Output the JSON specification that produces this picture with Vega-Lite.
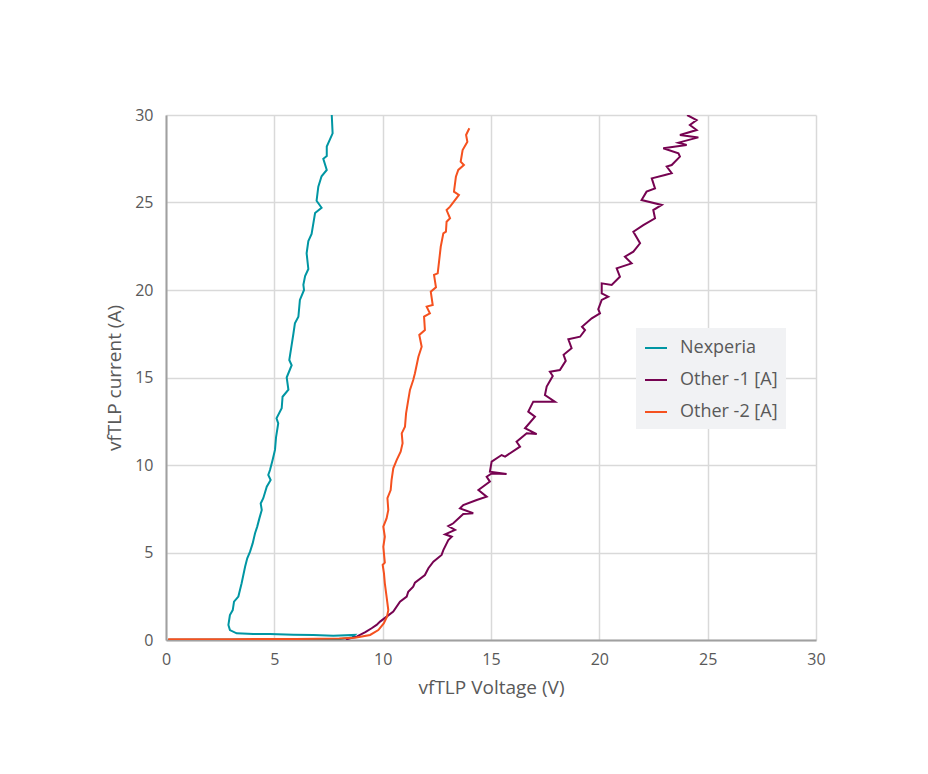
{
  "$schema": "https://vega.github.io/schema/vega-lite/v6.json",
  "width": 650,
  "height": 525,
  "autosize": {"type": "none"},
  "padding": {"left": 166, "top": 115, "right": 112, "bottom": 134},
  "background": "#ffffff",
  "config": {
    "font": "Open Sans",
    "view": {"stroke": null},
    "axis": {
      "labelColor": "#595959",
      "titleColor": "#595959",
      "labelFontSize": 16,
      "titleFontSize": 19,
      "titleFontWeight": "normal",
      "gridColor": "#d9d9d9",
      "gridWidth": 1.5,
      "domainColor": "#a0a0a0",
      "domainWidth": 2,
      "ticks": false,
      "labelFlush": false
    }
  },
  "data": {
    "values": [
      {"series": "Nexperia", "i": 0, "voltage": 0.1, "current": 0.02},
      {"series": "Nexperia", "i": 1, "voltage": 4.0, "current": 0.03},
      {"series": "Nexperia", "i": 2, "voltage": 8.0, "current": 0.05},
      {"series": "Nexperia", "i": 3, "voltage": 8.6, "current": 0.15},
      {"series": "Nexperia", "i": 4, "voltage": 8.72, "current": 0.29},
      {"series": "Nexperia", "i": 5, "voltage": 7.72, "current": 0.25},
      {"series": "Nexperia", "i": 6, "voltage": 6.8, "current": 0.29},
      {"series": "Nexperia", "i": 7, "voltage": 5.88, "current": 0.3},
      {"series": "Nexperia", "i": 8, "voltage": 4.8, "current": 0.34},
      {"series": "Nexperia", "i": 9, "voltage": 4.03, "current": 0.34},
      {"series": "Nexperia", "i": 10, "voltage": 3.26, "current": 0.38},
      {"series": "Nexperia", "i": 11, "voltage": 2.95, "current": 0.57},
      {"series": "Nexperia", "i": 12, "voltage": 2.88, "current": 0.86},
      {"series": "Nexperia", "i": 13, "voltage": 2.95, "current": 1.43},
      {"series": "Nexperia", "i": 14, "voltage": 3.08, "current": 1.71},
      {"series": "Nexperia", "i": 15, "voltage": 3.14, "current": 2.19},
      {"series": "Nexperia", "i": 16, "voltage": 3.34, "current": 2.48},
      {"series": "Nexperia", "i": 17, "voltage": 3.49, "current": 3.24},
      {"series": "Nexperia", "i": 18, "voltage": 3.65, "current": 4.19},
      {"series": "Nexperia", "i": 19, "voltage": 3.75, "current": 4.67},
      {"series": "Nexperia", "i": 20, "voltage": 3.88, "current": 5.05},
      {"series": "Nexperia", "i": 21, "voltage": 4.0, "current": 5.52},
      {"series": "Nexperia", "i": 22, "voltage": 4.11, "current": 6.1},
      {"series": "Nexperia", "i": 23, "voltage": 4.21, "current": 6.48},
      {"series": "Nexperia", "i": 24, "voltage": 4.31, "current": 6.95},
      {"series": "Nexperia", "i": 25, "voltage": 4.42, "current": 7.43},
      {"series": "Nexperia", "i": 26, "voltage": 4.37, "current": 7.8},
      {"series": "Nexperia", "i": 27, "voltage": 4.49, "current": 8.1},
      {"series": "Nexperia", "i": 28, "voltage": 4.65, "current": 8.76},
      {"series": "Nexperia", "i": 29, "voltage": 4.83, "current": 9.14},
      {"series": "Nexperia", "i": 30, "voltage": 4.72, "current": 9.43},
      {"series": "Nexperia", "i": 31, "voltage": 4.8, "current": 9.71},
      {"series": "Nexperia", "i": 32, "voltage": 4.92, "current": 10.29},
      {"series": "Nexperia", "i": 33, "voltage": 5.03, "current": 10.86},
      {"series": "Nexperia", "i": 34, "voltage": 5.08, "current": 11.6},
      {"series": "Nexperia", "i": 35, "voltage": 5.18, "current": 12.38},
      {"series": "Nexperia", "i": 36, "voltage": 5.1, "current": 12.67},
      {"series": "Nexperia", "i": 37, "voltage": 5.34, "current": 13.24},
      {"series": "Nexperia", "i": 38, "voltage": 5.38, "current": 13.9},
      {"series": "Nexperia", "i": 39, "voltage": 5.65, "current": 14.3},
      {"series": "Nexperia", "i": 40, "voltage": 5.57, "current": 15.0},
      {"series": "Nexperia", "i": 41, "voltage": 5.8, "current": 15.7},
      {"series": "Nexperia", "i": 42, "voltage": 5.69, "current": 16.0},
      {"series": "Nexperia", "i": 43, "voltage": 5.8, "current": 16.86},
      {"series": "Nexperia", "i": 44, "voltage": 5.88, "current": 17.5},
      {"series": "Nexperia", "i": 45, "voltage": 5.95, "current": 18.1},
      {"series": "Nexperia", "i": 46, "voltage": 6.11, "current": 18.47},
      {"series": "Nexperia", "i": 47, "voltage": 6.18, "current": 19.43},
      {"series": "Nexperia", "i": 48, "voltage": 6.37, "current": 20.0},
      {"series": "Nexperia", "i": 49, "voltage": 6.34, "current": 20.3},
      {"series": "Nexperia", "i": 50, "voltage": 6.42, "current": 20.8},
      {"series": "Nexperia", "i": 51, "voltage": 6.57, "current": 21.2},
      {"series": "Nexperia", "i": 52, "voltage": 6.49, "current": 22.1},
      {"series": "Nexperia", "i": 53, "voltage": 6.57, "current": 22.8},
      {"series": "Nexperia", "i": 54, "voltage": 6.72, "current": 23.2},
      {"series": "Nexperia", "i": 55, "voltage": 6.88, "current": 24.4},
      {"series": "Nexperia", "i": 56, "voltage": 7.18, "current": 24.7},
      {"series": "Nexperia", "i": 57, "voltage": 6.95, "current": 25.1},
      {"series": "Nexperia", "i": 58, "voltage": 7.03, "current": 25.9},
      {"series": "Nexperia", "i": 59, "voltage": 7.18, "current": 26.5},
      {"series": "Nexperia", "i": 60, "voltage": 7.42, "current": 26.86},
      {"series": "Nexperia", "i": 61, "voltage": 7.26, "current": 27.5},
      {"series": "Nexperia", "i": 62, "voltage": 7.42, "current": 27.66},
      {"series": "Nexperia", "i": 63, "voltage": 7.42, "current": 28.2},
      {"series": "Nexperia", "i": 64, "voltage": 7.69, "current": 28.95},
      {"series": "Nexperia", "i": 65, "voltage": 7.65, "current": 30.0},

      {"series": "Other -1 [A]", "i": 0, "voltage": 8.3, "current": 0.03},
      {"series": "Other -1 [A]", "i": 1, "voltage": 8.8, "current": 0.19},
      {"series": "Other -1 [A]", "i": 2, "voltage": 9.2, "current": 0.45},
      {"series": "Other -1 [A]", "i": 3, "voltage": 9.49, "current": 0.67},
      {"series": "Other -1 [A]", "i": 4, "voltage": 9.72, "current": 0.86},
      {"series": "Other -1 [A]", "i": 5, "voltage": 9.88, "current": 1.05},
      {"series": "Other -1 [A]", "i": 6, "voltage": 10.2, "current": 1.35},
      {"series": "Other -1 [A]", "i": 7, "voltage": 10.49, "current": 1.62},
      {"series": "Other -1 [A]", "i": 8, "voltage": 10.8, "current": 2.19},
      {"series": "Other -1 [A]", "i": 9, "voltage": 11.11, "current": 2.48},
      {"series": "Other -1 [A]", "i": 10, "voltage": 11.18, "current": 2.76},
      {"series": "Other -1 [A]", "i": 11, "voltage": 11.41, "current": 3.05},
      {"series": "Other -1 [A]", "i": 12, "voltage": 11.49, "current": 3.28},
      {"series": "Other -1 [A]", "i": 13, "voltage": 11.95, "current": 3.71},
      {"series": "Other -1 [A]", "i": 14, "voltage": 12.11, "current": 4.1},
      {"series": "Other -1 [A]", "i": 15, "voltage": 12.34, "current": 4.48},
      {"series": "Other -1 [A]", "i": 16, "voltage": 12.72, "current": 4.86},
      {"series": "Other -1 [A]", "i": 17, "voltage": 12.8, "current": 5.14},
      {"series": "Other -1 [A]", "i": 18, "voltage": 13.03, "current": 5.71},
      {"series": "Other -1 [A]", "i": 19, "voltage": 13.19, "current": 5.9},
      {"series": "Other -1 [A]", "i": 20, "voltage": 12.88, "current": 6.04},
      {"series": "Other -1 [A]", "i": 21, "voltage": 13.34, "current": 6.29},
      {"series": "Other -1 [A]", "i": 22, "voltage": 13.03, "current": 6.51},
      {"series": "Other -1 [A]", "i": 23, "voltage": 13.26, "current": 6.67},
      {"series": "Other -1 [A]", "i": 24, "voltage": 13.72, "current": 7.2},
      {"series": "Other -1 [A]", "i": 25, "voltage": 14.18, "current": 7.24},
      {"series": "Other -1 [A]", "i": 26, "voltage": 13.57, "current": 7.52},
      {"series": "Other -1 [A]", "i": 27, "voltage": 13.72, "current": 7.71},
      {"series": "Other -1 [A]", "i": 28, "voltage": 14.34, "current": 8.0},
      {"series": "Other -1 [A]", "i": 29, "voltage": 14.8, "current": 8.19},
      {"series": "Other -1 [A]", "i": 30, "voltage": 14.42, "current": 8.57},
      {"series": "Other -1 [A]", "i": 31, "voltage": 14.95, "current": 9.05},
      {"series": "Other -1 [A]", "i": 32, "voltage": 14.8, "current": 9.33},
      {"series": "Other -1 [A]", "i": 33, "voltage": 15.03, "current": 9.52},
      {"series": "Other -1 [A]", "i": 34, "voltage": 15.72, "current": 9.49},
      {"series": "Other -1 [A]", "i": 35, "voltage": 14.95, "current": 9.62},
      {"series": "Other -1 [A]", "i": 36, "voltage": 15.03, "current": 10.19},
      {"series": "Other -1 [A]", "i": 37, "voltage": 15.49, "current": 10.57},
      {"series": "Other -1 [A]", "i": 38, "voltage": 15.65, "current": 10.48},
      {"series": "Other -1 [A]", "i": 39, "voltage": 16.34, "current": 11.05},
      {"series": "Other -1 [A]", "i": 40, "voltage": 16.18, "current": 11.33},
      {"series": "Other -1 [A]", "i": 41, "voltage": 16.65, "current": 11.81},
      {"series": "Other -1 [A]", "i": 42, "voltage": 17.11, "current": 11.77},
      {"series": "Other -1 [A]", "i": 43, "voltage": 16.57, "current": 12.1},
      {"series": "Other -1 [A]", "i": 44, "voltage": 17.03, "current": 12.76},
      {"series": "Other -1 [A]", "i": 45, "voltage": 16.72, "current": 13.05},
      {"series": "Other -1 [A]", "i": 46, "voltage": 16.95, "current": 13.62},
      {"series": "Other -1 [A]", "i": 47, "voltage": 17.95, "current": 13.62},
      {"series": "Other -1 [A]", "i": 48, "voltage": 17.49, "current": 14.0},
      {"series": "Other -1 [A]", "i": 49, "voltage": 17.57, "current": 14.48},
      {"series": "Other -1 [A]", "i": 50, "voltage": 17.85, "current": 15.09},
      {"series": "Other -1 [A]", "i": 51, "voltage": 17.72, "current": 15.33},
      {"series": "Other -1 [A]", "i": 52, "voltage": 18.18, "current": 15.43},
      {"series": "Other -1 [A]", "i": 53, "voltage": 18.45, "current": 15.95},
      {"series": "Other -1 [A]", "i": 54, "voltage": 18.35, "current": 16.3},
      {"series": "Other -1 [A]", "i": 55, "voltage": 18.72, "current": 16.67},
      {"series": "Other -1 [A]", "i": 56, "voltage": 18.57, "current": 17.18},
      {"series": "Other -1 [A]", "i": 57, "voltage": 19.11, "current": 17.33},
      {"series": "Other -1 [A]", "i": 58, "voltage": 19.34, "current": 17.71},
      {"series": "Other -1 [A]", "i": 59, "voltage": 19.2, "current": 17.9},
      {"series": "Other -1 [A]", "i": 60, "voltage": 19.65, "current": 18.38},
      {"series": "Other -1 [A]", "i": 61, "voltage": 20.03, "current": 18.67},
      {"series": "Other -1 [A]", "i": 62, "voltage": 19.95, "current": 18.9},
      {"series": "Other -1 [A]", "i": 63, "voltage": 20.11, "current": 19.43},
      {"series": "Other -1 [A]", "i": 64, "voltage": 20.41, "current": 19.62},
      {"series": "Other -1 [A]", "i": 65, "voltage": 20.11, "current": 19.81},
      {"series": "Other -1 [A]", "i": 66, "voltage": 20.11, "current": 20.38},
      {"series": "Other -1 [A]", "i": 67, "voltage": 20.57, "current": 20.29},
      {"series": "Other -1 [A]", "i": 68, "voltage": 20.95, "current": 20.76},
      {"series": "Other -1 [A]", "i": 69, "voltage": 20.8, "current": 21.24},
      {"series": "Other -1 [A]", "i": 70, "voltage": 21.49, "current": 21.52},
      {"series": "Other -1 [A]", "i": 71, "voltage": 21.18, "current": 21.9},
      {"series": "Other -1 [A]", "i": 72, "voltage": 21.57, "current": 22.19},
      {"series": "Other -1 [A]", "i": 73, "voltage": 21.88, "current": 22.67},
      {"series": "Other -1 [A]", "i": 74, "voltage": 21.57, "current": 23.33},
      {"series": "Other -1 [A]", "i": 75, "voltage": 22.03, "current": 23.71},
      {"series": "Other -1 [A]", "i": 76, "voltage": 22.57, "current": 24.1},
      {"series": "Other -1 [A]", "i": 77, "voltage": 22.49, "current": 24.57},
      {"series": "Other -1 [A]", "i": 78, "voltage": 22.88, "current": 24.86},
      {"series": "Other -1 [A]", "i": 79, "voltage": 21.95, "current": 25.14},
      {"series": "Other -1 [A]", "i": 80, "voltage": 22.18, "current": 25.62},
      {"series": "Other -1 [A]", "i": 81, "voltage": 22.57, "current": 25.81},
      {"series": "Other -1 [A]", "i": 82, "voltage": 22.42, "current": 26.38},
      {"series": "Other -1 [A]", "i": 83, "voltage": 23.03, "current": 26.57},
      {"series": "Other -1 [A]", "i": 84, "voltage": 23.34, "current": 26.67},
      {"series": "Other -1 [A]", "i": 85, "voltage": 23.11, "current": 27.05},
      {"series": "Other -1 [A]", "i": 86, "voltage": 23.34, "current": 27.14},
      {"series": "Other -1 [A]", "i": 87, "voltage": 23.72, "current": 27.62},
      {"series": "Other -1 [A]", "i": 88, "voltage": 23.65, "current": 27.81},
      {"series": "Other -1 [A]", "i": 89, "voltage": 22.95, "current": 28.1},
      {"series": "Other -1 [A]", "i": 90, "voltage": 24.03, "current": 28.29},
      {"series": "Other -1 [A]", "i": 91, "voltage": 23.65, "current": 28.42},
      {"series": "Other -1 [A]", "i": 92, "voltage": 24.57, "current": 28.72},
      {"series": "Other -1 [A]", "i": 93, "voltage": 23.72, "current": 28.86},
      {"series": "Other -1 [A]", "i": 94, "voltage": 24.49, "current": 29.14},
      {"series": "Other -1 [A]", "i": 95, "voltage": 24.18, "current": 29.43},
      {"series": "Other -1 [A]", "i": 96, "voltage": 24.49, "current": 29.71},
      {"series": "Other -1 [A]", "i": 97, "voltage": 24.05, "current": 30.0},

      {"series": "Other -2 [A]", "i": 0, "voltage": 0.1, "current": 0.05},
      {"series": "Other -2 [A]", "i": 1, "voltage": 3.0, "current": 0.05},
      {"series": "Other -2 [A]", "i": 2, "voltage": 6.0, "current": 0.06},
      {"series": "Other -2 [A]", "i": 3, "voltage": 8.0, "current": 0.08},
      {"series": "Other -2 [A]", "i": 4, "voltage": 8.72, "current": 0.13},
      {"series": "Other -2 [A]", "i": 5, "voltage": 9.42, "current": 0.29},
      {"series": "Other -2 [A]", "i": 6, "voltage": 9.8, "current": 0.57},
      {"series": "Other -2 [A]", "i": 7, "voltage": 10.05, "current": 0.95},
      {"series": "Other -2 [A]", "i": 8, "voltage": 10.2, "current": 1.33},
      {"series": "Other -2 [A]", "i": 9, "voltage": 10.26, "current": 1.71},
      {"series": "Other -2 [A]", "i": 10, "voltage": 10.18, "current": 2.48},
      {"series": "Other -2 [A]", "i": 11, "voltage": 10.1, "current": 3.24},
      {"series": "Other -2 [A]", "i": 12, "voltage": 10.06, "current": 3.81},
      {"series": "Other -2 [A]", "i": 13, "voltage": 10.0, "current": 4.29},
      {"series": "Other -2 [A]", "i": 14, "voltage": 10.1, "current": 4.42},
      {"series": "Other -2 [A]", "i": 15, "voltage": 10.03, "current": 5.33},
      {"series": "Other -2 [A]", "i": 16, "voltage": 10.1, "current": 5.9},
      {"series": "Other -2 [A]", "i": 17, "voltage": 10.03, "current": 6.48},
      {"series": "Other -2 [A]", "i": 18, "voltage": 10.18, "current": 6.95},
      {"series": "Other -2 [A]", "i": 19, "voltage": 10.26, "current": 7.43},
      {"series": "Other -2 [A]", "i": 20, "voltage": 10.22, "current": 8.1},
      {"series": "Other -2 [A]", "i": 21, "voltage": 10.37, "current": 8.57},
      {"series": "Other -2 [A]", "i": 22, "voltage": 10.41, "current": 9.14},
      {"series": "Other -2 [A]", "i": 23, "voltage": 10.49, "current": 9.81},
      {"series": "Other -2 [A]", "i": 24, "voltage": 10.65, "current": 10.29},
      {"series": "Other -2 [A]", "i": 25, "voltage": 10.83, "current": 10.76},
      {"series": "Other -2 [A]", "i": 26, "voltage": 10.92, "current": 11.24},
      {"series": "Other -2 [A]", "i": 27, "voltage": 10.88, "current": 11.81},
      {"series": "Other -2 [A]", "i": 28, "voltage": 11.03, "current": 12.19},
      {"series": "Other -2 [A]", "i": 29, "voltage": 11.08, "current": 12.95},
      {"series": "Other -2 [A]", "i": 30, "voltage": 11.18, "current": 13.71},
      {"series": "Other -2 [A]", "i": 31, "voltage": 11.26, "current": 14.29},
      {"series": "Other -2 [A]", "i": 32, "voltage": 11.41, "current": 14.86},
      {"series": "Other -2 [A]", "i": 33, "voltage": 11.49, "current": 15.24},
      {"series": "Other -2 [A]", "i": 34, "voltage": 11.65, "current": 16.19},
      {"series": "Other -2 [A]", "i": 35, "voltage": 11.8, "current": 16.76},
      {"series": "Other -2 [A]", "i": 36, "voltage": 11.69, "current": 17.43},
      {"series": "Other -2 [A]", "i": 37, "voltage": 11.95, "current": 17.71},
      {"series": "Other -2 [A]", "i": 38, "voltage": 11.91, "current": 18.48},
      {"series": "Other -2 [A]", "i": 39, "voltage": 12.18, "current": 18.67},
      {"series": "Other -2 [A]", "i": 40, "voltage": 12.03, "current": 19.05},
      {"series": "Other -2 [A]", "i": 41, "voltage": 12.31, "current": 19.14},
      {"series": "Other -2 [A]", "i": 42, "voltage": 12.22, "current": 19.9},
      {"series": "Other -2 [A]", "i": 43, "voltage": 12.46, "current": 20.15},
      {"series": "Other -2 [A]", "i": 44, "voltage": 12.37, "current": 20.86},
      {"series": "Other -2 [A]", "i": 45, "voltage": 12.54, "current": 20.95},
      {"series": "Other -2 [A]", "i": 46, "voltage": 12.61, "current": 21.71},
      {"series": "Other -2 [A]", "i": 47, "voltage": 12.68, "current": 22.47},
      {"series": "Other -2 [A]", "i": 48, "voltage": 12.8, "current": 23.24},
      {"series": "Other -2 [A]", "i": 49, "voltage": 12.92, "current": 23.33},
      {"series": "Other -2 [A]", "i": 50, "voltage": 12.95, "current": 23.9},
      {"series": "Other -2 [A]", "i": 51, "voltage": 13.11, "current": 24.1},
      {"series": "Other -2 [A]", "i": 52, "voltage": 12.95, "current": 24.57},
      {"series": "Other -2 [A]", "i": 53, "voltage": 13.11, "current": 24.76},
      {"series": "Other -2 [A]", "i": 54, "voltage": 13.52, "current": 25.43},
      {"series": "Other -2 [A]", "i": 55, "voltage": 13.29, "current": 25.62},
      {"series": "Other -2 [A]", "i": 56, "voltage": 13.38, "current": 26.47},
      {"series": "Other -2 [A]", "i": 57, "voltage": 13.49, "current": 26.86},
      {"series": "Other -2 [A]", "i": 58, "voltage": 13.75, "current": 27.14},
      {"series": "Other -2 [A]", "i": 59, "voltage": 13.6, "current": 27.33},
      {"series": "Other -2 [A]", "i": 60, "voltage": 13.69, "current": 28.0},
      {"series": "Other -2 [A]", "i": 61, "voltage": 13.91, "current": 28.47},
      {"series": "Other -2 [A]", "i": 62, "voltage": 13.85, "current": 28.86},
      {"series": "Other -2 [A]", "i": 63, "voltage": 14.0, "current": 29.24}
    ]
  },
  "mark": {"type": "line", "strokeWidth": 2, "clip": true},
  "encoding": {
    "x": {
      "field": "voltage",
      "type": "quantitative",
      "scale": {"domain": [0, 30], "nice": false},
      "axis": {"values": [0, 5, 10, 15, 20, 25, 30], "title": "vfTLP Voltage (V)", "labelPadding": 11, "titlePadding": 11, "grid": true}
    },
    "y": {
      "field": "current",
      "type": "quantitative",
      "scale": {"domain": [0, 30], "nice": false},
      "axis": {"values": [0, 5, 10, 15, 20, 25, 30], "title": "vfTLP current (A)", "labelPadding": 13, "titlePadding": 10, "grid": true}
    },
    "color": {
      "field": "series",
      "type": "nominal",
      "scale": {
        "domain": ["Nexperia", "Other -1 [A]", "Other -2 [A]"],
        "range": ["#0096a3", "#760351", "#f5511f"]
      },
      "legend": {
        "title": null,
        "orient": "none",
        "legendX": 470,
        "legendY": 213,
        "fillColor": "#f1f2f4",
        "padding": 8,
        "symbolType": "stroke",
        "symbolSize": 484,
        "symbolStrokeWidth": 2,
        "labelFontSize": 18,
        "labelColor": "#595959",
        "labelOffset": 12,
        "rowPadding": 11
      }
    },
    "order": {"field": "i", "type": "quantitative"}
  }
}
